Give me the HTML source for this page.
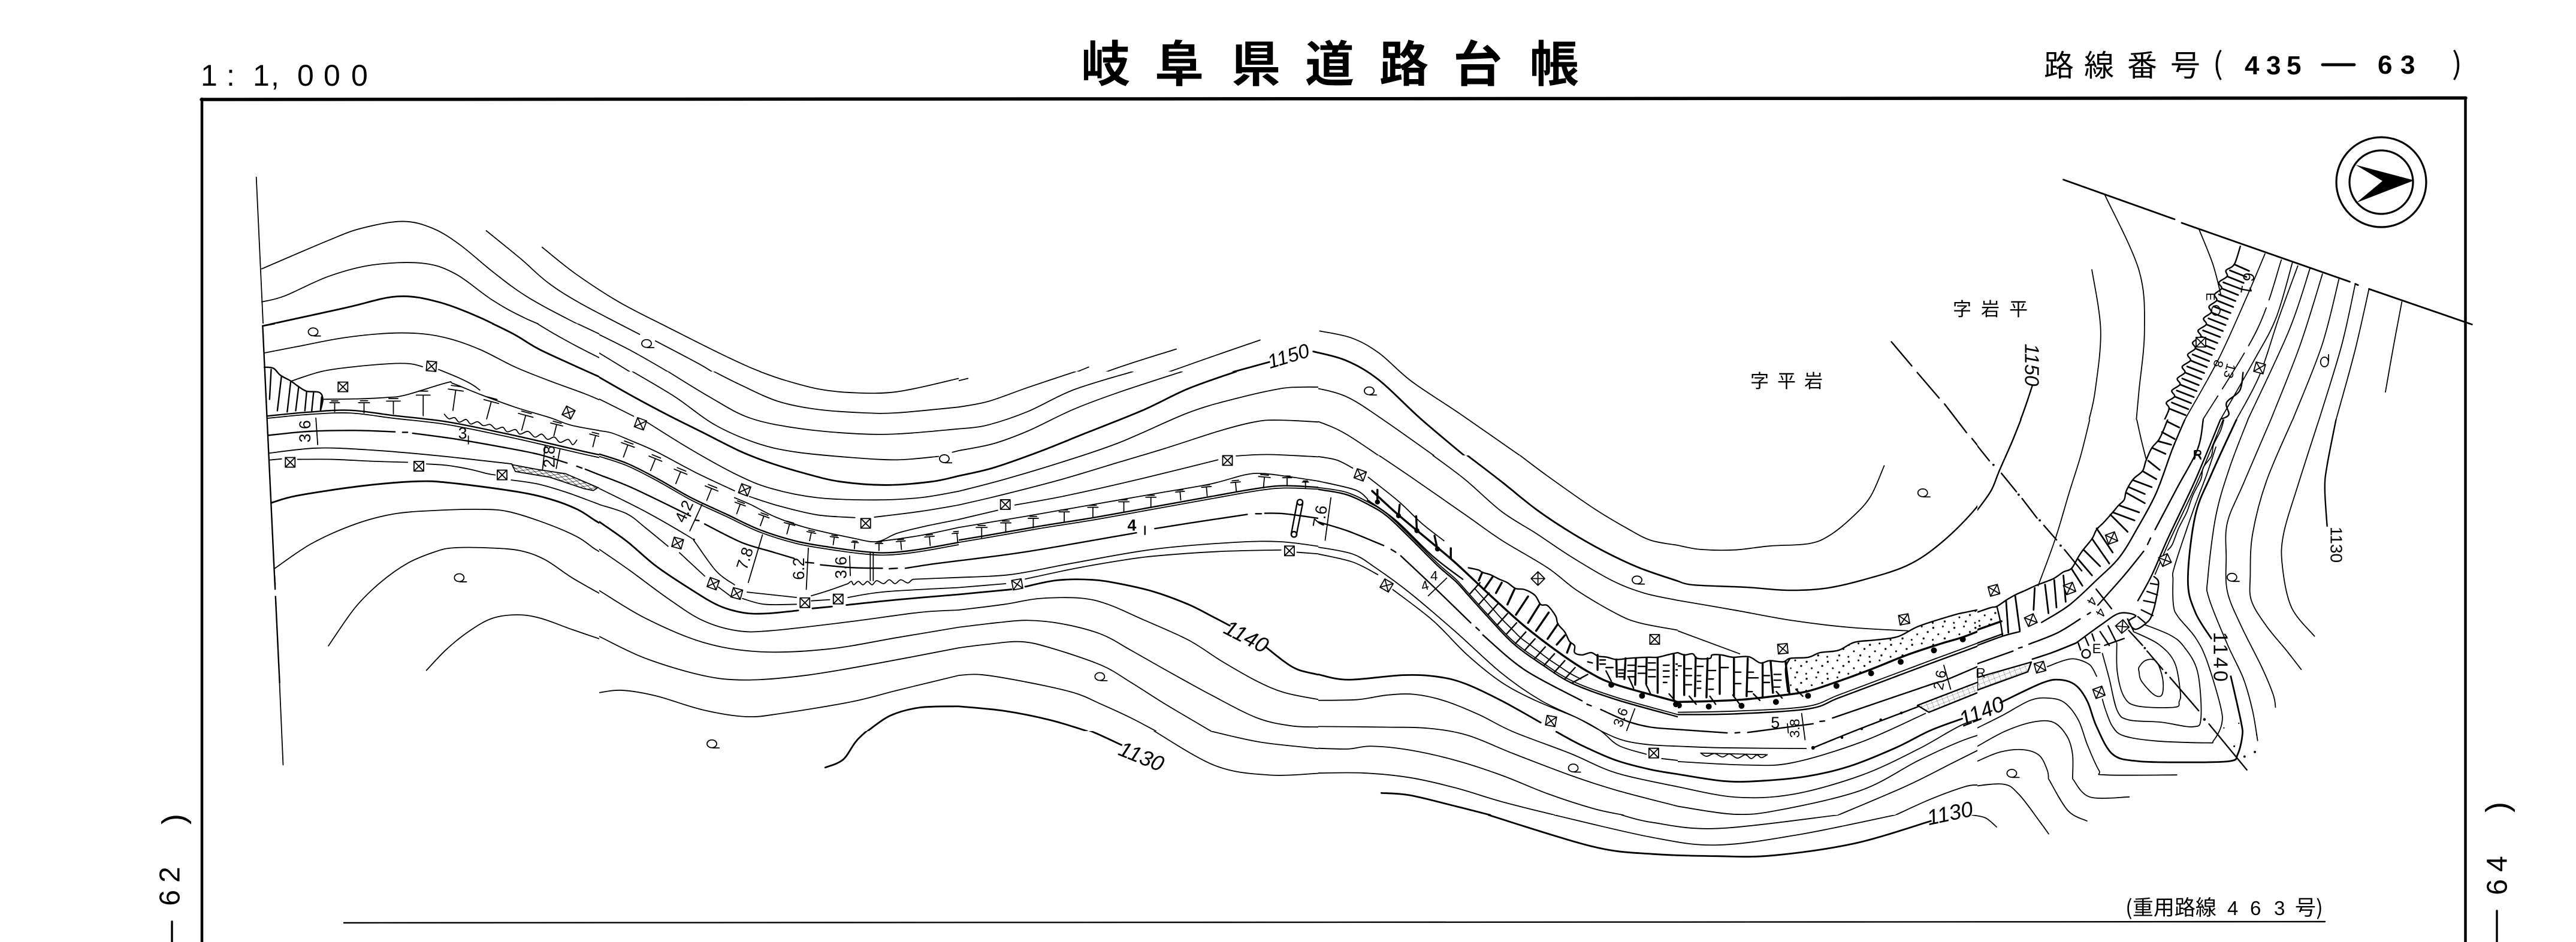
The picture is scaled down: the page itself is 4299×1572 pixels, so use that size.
<!DOCTYPE html>
<html lang="ja"><head><meta charset="utf-8"><title>岐阜県道路台帳</title>
<style>
html,body{margin:0;padding:0;background:#fff;width:4299px;height:1572px;overflow:hidden}
svg{display:block}
path,line,rect,ellipse,circle,polygon{vector-effect:non-scaling-stroke;fill:none;stroke:#000;stroke-width:1.8;stroke-linejoin:round;stroke-linecap:round}
.k{stroke-width:2.8}
.m{stroke-width:2.4}
.h{stroke-width:3.4}
.d{stroke-dasharray:70 14}
.f{fill:#000;stroke:none}
.w{fill:#fff}
text{fill:#000;stroke:none;font-family:"Liberation Sans","Noto Sans CJK JP",sans-serif}
.j{font-family:"Noto Sans CJK JP","Liberation Sans",sans-serif}
.t{font-size:70px;text-anchor:middle;dominant-baseline:central}
.l{font-size:33px;text-anchor:middle;dominant-baseline:central;font-style:italic}
</style></head><body>
<svg xmlns="http://www.w3.org/2000/svg" width="4299" height="1572" viewBox="0 0 4299 1572">
<defs>
<clipPath id="o"><path clip-rule="evenodd" d="M0 0H4299V1572H0ZM420 540H1000V620H2200V760H3300V700H3900V1300H3300V1360H2200V1220H1000V1140H420Z"/></clipPath>
<clipPath id="cA"><rect x="420" y="540" width="580" height="600"/></clipPath>
<clipPath id="cB"><rect x="1000" y="620" width="600" height="600"/></clipPath>
<clipPath id="cC"><rect x="1600" y="620" width="600" height="600"/></clipPath>
<clipPath id="cD"><rect x="2200" y="760" width="600" height="600"/></clipPath>
<clipPath id="cE"><rect x="2800" y="760" width="500" height="600"/></clipPath>
<clipPath id="cF"><rect x="3300" y="700" width="600" height="600"/></clipPath>
<g id="b"><rect class="w" x="-21" y="-21" width="42" height="42" style="fill:#fff"/><path d="M-21 -21 21 21M21 -21 -21 21"/></g>
<g id="q"><ellipse cx="0" cy="-2" rx="21" ry="17"/><path d="M4 16H32"/></g>
<g id="T"><path d="M0 0V56M-30 0H30M-20 -11H20"/></g>
<pattern id="st" width="92" height="74" patternUnits="userSpaceOnUse"><circle class="f" cx="10" cy="12" r="4.5"/><circle class="f" cx="52" cy="6" r="4"/><circle class="f" cx="78" cy="30" r="4.5"/><circle class="f" cx="32" cy="40" r="4"/><circle class="f" cx="60" cy="58" r="4.5"/><circle class="f" cx="8" cy="64" r="4"/></pattern>
<pattern id="gr" width="24" height="18" patternUnits="userSpaceOnUse" patternTransform="rotate(-21)"><path style="stroke-width:1.5" d="M0 0H24M0 0V18"/></pattern>
<pattern id="xh" width="34" height="16" patternUnits="userSpaceOnUse" patternTransform="rotate(15)"><path style="stroke-width:1.5" d="M0 0 34 16M34 0 0 16"/></pattern>
</defs>

<!-- frame and bottom line -->
<path style="stroke-width:5.5" d="M336 166 4115 163.5"/>
<path style="stroke-width:4.5" d="M337 165V1572M4114.5 163V1572"/>
<path style="stroke-width:2.4" d="M574 1540 3880 1538"/>

<!-- titles -->
<text x="1804 1927 2055 2178 2302 2425 2553" y="136" class="j" font-size="82" font-weight="700">岐阜県道路台帳</text>
<text x="335 378 422 452 496 540 586" y="143" font-size="50">1:1,000</text>
<text x="3411 3478 3550 3622" y="127" class="j" font-size="50">路線番号</text>
<text x="3693" y="124" class="j" font-size="50">(</text>
<text x="3746 3782 3816" y="124" font-size="44" font-weight="700" >435</text>
<path style="stroke-width:5" d="M3876 108H3929"/>
<text x="3968 4006" y="123" font-size="44" font-weight="700">63</text>
<text x="4092" y="124" class="j" font-size="50">)</text>
<text x="3259 3306 3353" y="527" class="j" font-size="31">字岩平</text>
<text x="2921 2966 3011" y="647" class="j" font-size="31">字平岩</text>
<text x="3547" y="1527" class="j" font-size="35">(重用路線</text>
<text x="3717 3755 3795" y="1527" font-size="33">463</text>
<text x="3830" y="1527" class="j" font-size="35">号)</text>
<text transform="translate(290 1367) rotate(-90)" text-anchor="middle" font-size="54" dominant-baseline="central">)</text>
<text transform="translate(284 1473) rotate(-90)" text-anchor="middle" font-size="48" letter-spacing="12" dominant-baseline="central">62</text>
<path style="stroke-width:3.4" d="M287 1538V1572M4167 1520V1572"/>
<text transform="translate(4168 1347) rotate(-90)" text-anchor="middle" font-size="54" dominant-baseline="central">)</text>
<text transform="translate(4168 1455) rotate(-90)" text-anchor="middle" font-size="48" letter-spacing="12" dominant-baseline="central">64</text>

<!-- compass -->
<ellipse cx="3974" cy="304" rx="75" ry="75" style="stroke-width:3.2"/>
<ellipse cx="3974" cy="304" rx="53" ry="53" style="stroke-width:3.2"/>
<polygon class="f" points="4029,301 3931,275 3976,302 3933,338"/>

<!-- contour labels -->
<text class="l" transform="translate(2150 594) rotate(-17)">1150</text>
<text class="l" transform="translate(3391 609) rotate(90)">1150</text>
<text class="l" transform="translate(2080 1062) rotate(27)" style="font-size:36px">1140</text>
<text class="l" transform="translate(1905 1262) rotate(22)" style="font-size:36px">1130</text>
<text class="l" transform="translate(3307 1187) rotate(-22)" style="font-size:36px">1140</text>
<text class="l" transform="translate(3254 1357) rotate(-12)" style="font-size:36px">1130</text>
<text class="l" transform="translate(3706 1098) rotate(90)" style="font-style:normal;letter-spacing:4px">1140</text>
<text class="l" transform="translate(3899 909) rotate(90)" style="font-style:normal;font-size:28px">1130</text>
<text class="l" transform="translate(2203 862) rotate(-80)" style="font-style:normal;font-size:27px">7.6</text>
<text class="l" transform="translate(3751 473) rotate(100)" style="font-style:normal;font-size:26px">6.1</text>
<text class="l" transform="translate(3688 495) rotate(90)" style="font-style:normal;font-size:20px">E</text>
<ellipse cx="3698" cy="518" rx="7" ry="8"/>
<text class="l" transform="translate(3702 607) rotate(105)" style="font-style:normal;font-size:22px">8</text>
<text class="l" transform="translate(3721 619) rotate(105)" style="font-style:normal;font-size:22px">13</text>
<text class="l" transform="translate(3668 759)" style="font-style:normal;font-size:20px">R</text>

<!-- upper/outer contours traced in stretched space -->
<g clip-path="url(#o)"><g transform="scale(.9139 .5013)">
<path d="M468 590 481 1100M510 2255 517 2546"/>
<path d="M990 823 1050 910 1130 1005 1220 1090 1330 1190 1400 1245 1480 1290 1568 1307 1628 1302 1698 1285 1766 1260"/>
<path d="M888 768 950 860 1000 940 1060 1010 1168 1113M1197 1135 1280 1215 1350 1290 1450 1350 1568 1375 1648 1380 1780 1350 1900 1285 1988 1222"/>
<path d="M478 895 600 800 660 760 735 737 790 760 840 815 900 905 960 985 1040 1065 1150 1165 1260 1280 1340 1360 1420 1410 1568 1445 1680 1442 1800 1410 1900 1345 2010 1245 2148 1162"/>
<path d="M478 1005 520 985 600 920 680 882 770 876 830 910 900 1000 960 1060 1060 1140 1180 1270 1290 1380 1400 1470 1480 1510 1568 1520 1640 1528 1720 1505 1850 1440 1980 1340 2170 1215 2301 1132"/>
<path class="k" d="M480 1085 630 1025 725 987 800 1005 880 1060 960 1135 1070 1235 1170 1330 1290 1450M2188 1270 2318 1205M2398 1170 2458 1200 2518 1265 2598 1400 2708 1568"/>
<path d="M2398 1290 2458 1320 2528 1400 2658 1568M2398 1397 2458 1445 2558 1568M2410 1102 2468 1125 2518 1175 2578 1270 2668 1380 2816 1568"/>
<path class="k" d="M1507 2555 1540 2528 1568 2458 1618 2388 1668 2363 1728 2348 1858 2373 1968 2418 2048 2480"/>
<path d="M2100 2425 2218 2548 2318 2580 2410 2574M2211 2434 2300 2470 2407 2492"/>
<path d="M2961 2713 3018 2738 3136 2758 3357 2713M2838 2713 3018 2788 3136 2813 3286 2778 3461 2713"/>
<path class="k" d="M2718 2713 2908 2818 3018 2843 3136 2850 3236 2848 3386 2808 3526 2733"/>
<path d="M3601 2713 3626 2723 3646 2753"/>
<path d="M3587 2622 3656 2610 3686 2643 3726 2738 3741 2776M3741 2593 3776 2698 3811 2733M3785 2593 3816 2653 3888 2653"/>
<path class="m" d="M3711 1285 3690 1396 3651 1568"/>
<path class="m" d="M3454 1138 3491 1218M3501 1240 3541 1325M3551 1345 3591 1440M3601 1460 3646 1560"/>
<path d="M3844 650 3906 900 3916 1100 3906 1300 3901 1400M3820 898 3836 1100 3826 1300 3815 1396M4016 765 4041 880 4056 985"/>
<path class="h" d="M3768 598 3971 730M3984 742 4291 938M4301 945 4306 949M4326 962 4514 1080" style="stroke-width:2.8"/>
<path d="M4136 845 4100 1000 4050 1200 3990 1396"/>
<path class="d" d="M4166 865 4121 1100 4023 1396"/>
<path d="M4186 875 4156 1060 4116 1200 4055 1396M4196 885 4161 1060 4126 1250 4084 1396"/>
<path class="m" d="M4096 1240 4090 1300 4066 1340 4070 1380 4055 1396"/>
<path d="M4218 895 4180 1100 4105 1396M4241 912 4200 1150 4147 1396M4271 930 4240 1150 4187 1396M4301 945 4276 1150 4235 1396M4326 962 4300 1170 4266 1396M4386 1005 4371 1150 4356 1305"/>
<path class="m" d="M4091 820 4080 880 4065 900 4067 920 4052 940 4057 960 4044 980 4048 1000 4034 1020 4038 1040 4024 1060 4029 1080 4014 1100 4019 1120 4004 1140 4009 1160 3995 1180 4000 1200 3985 1220 3990 1240 3976 1260 3981 1280 3966 1300 3971 1320 3956 1340 3961 1360 3953 1396"/>
<path class="k" d="M4080 880 4107 902M4072 900 4102 922M4067 920 4097 942M4060 940 4092 962M4057 960 4087 982M4052 980 4082 1002M4048 1000 4078 1022M4042 1020 4073 1042M4038 1040 4068 1062M4033 1060 4064 1082M4029 1080 4059 1102M4023 1100 4054 1122M4019 1120 4049 1142M4013 1140 4044 1162M4009 1160 4039 1182M4004 1180 4034 1202M4000 1200 4030 1222M3994 1220 4025 1242M3990 1240 4020 1262M3985 1260 4015 1282M3981 1280 4011 1302M3975 1300 4006 1322M3971 1320 4001 1342M3966 1340 3996 1362M3961 1360 3991 1382"/>
</g></g>
<use href="#b" transform="translate(3673 571) scale(.3827)"/>
<use href="#b" transform="translate(3771 614) rotate(15) scale(.3827)"/>
<use href="#q" transform="translate(1079 574) scale(.3827)"/>
<use href="#q" transform="translate(2285 653) scale(.3827)"/>
<use href="#q" transform="translate(1188 1242) scale(.3827)"/>
<use href="#q" transform="translate(3880 604) rotate(-90) scale(.3827)"/>

<!-- A -->
<g clip-path="url(#cA)"><g transform="translate(420 540) scale(.3827)">
<path class="m" d="M48 10 98 1070 100 1100M102 1130 102 1148M104 1190 122 1568"/>
<path class="k" d="M48 10 100 0"/>
<path d="M55 128 200 100 400 62 600 42 750 45 870 68 1000 115 1150 190 1300 250 1450 305 1568 355"/>
<path class="k" d="M1050 0 1150 50 1250 110 1400 180 1500 225 1568 255"/>
<path d="M1245 0 1320 45 1420 100 1568 175M1420 0 1568 70"/>
<path d="M175 250 300 210 430 190 600 175 690 175 745 188M815 200 900 235 960 265 995 290"/>
<path class="m" d="M55 190 95 195 125 225 170 250 205 275 240 295 295 300 310 330 300 380"/>
<path class="m" d="M85 200 78 330M130 230 112 380M170 255 155 385M205 275 192 380M240 295 232 380M270 300 262 380M305 320 300 375"/>
<path d="M315 330 470 328 590 322 670 312 850 258 880 262 1000 310 1150 365 1300 410 1400 445 1568 475"/>
<use href="#T" transform="translate(362 345) scale(.7)"/><use href="#T" transform="translate(490 345) scale(.8)"/><use href="#T" transform="translate(618 338) scale(1 1)"/><use href="#T" transform="translate(748 312) scale(1 1.6)"/><use href="#T" transform="translate(890 290) rotate(8) scale(1.1 1.6)"/><use href="#T" transform="translate(1045 340) rotate(15) scale(1.1 1.4)"/><use href="#T" transform="translate(1195 400) rotate(15) scale(1.1 1.2)"/><use href="#T" transform="translate(1330 440) rotate(14) scale(.9)"/><use href="#T" transform="translate(1500 488) rotate(14) scale(.9)"/>
<path class="m" d="M68 403 250 386 430 378 620 401 850 428 1100 478 1300 523 1450 558 1568 583"/>
<path d="M68 413 250 396 430 390 620 413 850 440 1100 490 1300 535 1450 570 1568 595"/>
<path class="m" d="M75 487 250 470 450 466 625 472M658 474 680 474M702 478 900 505 1100 540 1250 570 1375 608M1418 622 1440 630M1455 635 1568 680"/>
<path d="M75 565 280 543 500 550 800 575 1135 612M1510 715 1568 742"/>
<path d="M78 595 130 590M200 592 350 592 520 600 680 605M762 612 850 618 950 635 1030 655 1062 660M1132 682 1250 700 1370 735 1480 775 1568 808"/>
<path class="k" d="M85 782 200 750 480 708 720 688 870 695 1150 732 1300 765 1420 810 1500 860 1568 900"/>
<path d="M100 1068 260 960 450 875 620 830 800 815 1000 810 1120 820 1280 870 1420 930 1500 985 1568 1020"/>
<path d="M335 1405 450 1240 560 1130 680 1045 800 995 880 978 1030 978 1170 990 1280 1030 1400 1110 1568 1205"/>
<path d="M762 1512 850 1420 950 1340 1050 1285 1160 1270 1260 1285 1400 1335 1568 1392"/>
<path d="M840 395 860 415 885 410 905 430 935 418 955 438 985 428 1010 445 1040 440 1065 460 1095 452 1115 472 1150 462 1170 482 1205 470 1235 495 1265 482 1290 505 1320 495 1345 518 1380 505 1400 528 1418 508"/>
<polygon style="fill:url(#xh)" points="1135,615 1240,635 1370,655 1510,715 1490,728 1450,720 1300,670 1150,645"/>
<use href="#b" transform="translate(784 186) rotate(5)"/><use href="#b" transform="translate(398 276)"/><use href="#b" transform="translate(1382 388) rotate(28)"/><use href="#b" transform="translate(168 605)"/><use href="#b" transform="translate(729 622)"/><use href="#b" transform="translate(1092 660)"/>
<use href="#q" transform="translate(268 38)"/><use href="#q" transform="translate(905 1110)"/>
<path d="M280 412 288 528M1345 545 1328 632M1280 530 1268 640M945 490 945 525"/>
<text class="t" transform="translate(232 470) rotate(-90)">3.6</text>
<text class="t" transform="translate(1297 580) rotate(-90)">2.8</text>
<text class="t" transform="translate(920 478)">3</text>
</g></g>

<!-- B -->
<g clip-path="url(#cB)"><g transform="translate(1000 620) scale(.3827)">
<path d="M700 0 800 35 950 75 1100 92 1300 88 1568 30M500 0 620 60 780 130 950 165 1150 180 1300 180 1568 155M300 0 480 110 650 200 850 245 1100 270 1300 272 1568 250"/>
<path d="M145 0 330 110 500 230 680 310 850 350 1100 375 1300 385 1480 370M1540 352 1568 345"/>
<path class="k" d="M0 25 150 110 300 190 450 265 620 350 750 400 900 445 1050 480 1250 495 1450 480 1568 455"/>
<path d="M0 120 150 195M210 222 400 340 600 450 750 510 950 550 1200 560 1400 550 1568 522"/>
<path d="M0 258 55 268 135 300 250 350 420 440 590 520M655 545 780 585 950 625 1115 637M1200 635 1400 610 1568 582"/>
<path d="M590 550 660 580 770 635 900 680 1100 725 1210 742 1300 705 1420 675 1568 645M1215 742 1400 715 1568 680"/>
<use href="#T" transform="translate(125 320) rotate(20)"/><use href="#T" transform="translate(245 380) rotate(22)"/><use href="#T" transform="translate(355 437) rotate(22)"/><use href="#T" transform="translate(490 510) rotate(22)"/><use href="#T" transform="translate(615 578) rotate(20) scale(.8)"/><use href="#T" transform="translate(718 630) rotate(20) scale(.8)"/><use href="#T" transform="translate(830 665) rotate(15) scale(.8)"/><use href="#T" transform="translate(925 702) rotate(12) scale(.65)"/><use href="#T" transform="translate(1025 722) rotate(8) scale(.6)"/><use href="#T" transform="translate(1115 745) rotate(5) scale(.5)"/><use href="#T" transform="translate(1220 750) scale(.55)"/><use href="#T" transform="translate(1315 740) rotate(-5) scale(.65)"/><use href="#T" transform="translate(1440 720) rotate(-5) scale(.7)"/><use href="#T" transform="translate(1560 705) rotate(-5) scale(.7)"/>
<path class="m" d="M0 360 120 400 250 465 400 550 550 620 700 690 860 740 1000 765 1150 785 1260 790 1400 775 1568 745"/>
<path d="M0 370 120 410 250 475 400 560 550 630 700 700 860 750 1000 775 1150 795 1260 800 1400 785 1568 755"/>
<path class="m" d="M0 450 150 510 398 630M420 648 435 650M460 665 620 745 750 785 850 815M900 832 935 835M965 843 1100 855 1235 858M1265 860 1300 858M1335 858 1450 840 1568 825"/>
<path d="M0 510 200 610 400 725 415 740 510 870 590 930M645 962 860 985M925 978 1000 955 1085 925"/>
<path d="M1085 925 1100 915 1110 930 1130 915 1150 930 1170 915 1190 930 1210 912 1240 925 1265 908 1290 925 1315 908 1345 922 1365 908 1390 905 1568 898"/>
<path d="M0 580 120 620 200 680 300 762M350 790 460 892M520 940 580 985M625 990 720 1015 860 1015M925 1000 1005 995M1085 985 1250 960 1568 942"/>
<path class="k" d="M0 655 120 740 250 850 400 950 520 1020 630 1052 730 1055 868 1042M930 1033 1015 1025M1078 1018 1300 995 1568 972"/>
<path d="M0 775 130 865 300 990 450 1085 600 1130 750 1130 1100 1090 1400 1050 1568 1040"/>
<path d="M0 955 200 1075 450 1180 700 1222 1000 1210 1300 1160 1568 1115"/>
<path d="M0 1155 200 1250 450 1325 640 1345 900 1325 1200 1275 1568 1205"/>
<path d="M0 1400 100 1390 250 1415 450 1475 640 1505 800 1490 1100 1440 1300 1390 1568 1325"/>
<path class="k" d="M1170 1568 1270 1500 1400 1465 1568 1460"/>
<path d="M1182 790V912M1195 790V912M448 580 395 695M712 712 650 920M912 770 903 950M1092 805 1095 890"/>
<use href="#b" transform="translate(180 228) rotate(20)"/><use href="#b" transform="translate(634 516) rotate(20)"/><use href="#b" transform="translate(1162 662)"/><use href="#b" transform="translate(342 748) rotate(15)"/><use href="#b" transform="translate(497 925) rotate(20)"/><use href="#b" transform="translate(600 968) rotate(15)"/><use href="#b" transform="translate(897 1008)"/><use href="#b" transform="translate(1042 992)"/>
<use href="#q" transform="translate(1505 382)"/>
<text class="t" transform="translate(370 610) rotate(-65)">4.2</text>
<text class="t" transform="translate(635 815) rotate(-72)">7.8</text>
<text class="t" transform="translate(870 860) rotate(-90)">6.2</text>
<text class="t" transform="translate(1055 855) rotate(-90)">3.6</text>
</g></g>

<!-- C -->
<g clip-path="url(#cC)"><g transform="translate(1600 620) scale(.3827)">
<path d="M0 40 40 30M0 155 130 130 300 70 510 0M0 250 120 235 300 175 500 80 760 0M0 345 150 315 300 260 500 165 700 90 975 0"/>
<path class="k" d="M0 455 150 420 350 350 550 270 800 170 1000 75 1210 0"/>
<path d="M0 522 200 470 450 395 700 310 1000 180 1200 120 1400 75 1500 68 1568 68M0 582 180 540 450 470 700 395 900 335 1150 255 1300 218 1400 212 1568 220"/>
<path d="M0 645 170 605M245 582 450 545 700 490 950 430 1130 385M1210 368 1350 362 1568 372"/>
<path d="M0 680 150 655 300 630 500 595 700 560 900 525 1100 490 1250 450 1330 445 1450 460 1568 478"/>
<path class="m" d="M0 735 150 710 350 675 600 635 850 590 1100 545 1300 510 1420 498 1568 505"/>
<path d="M0 745 150 720 350 685 600 645 850 600 1100 555 1300 520 1420 508 1568 513"/>
<use href="#T" transform="translate(100 680) scale(.8)"/><use href="#T" transform="translate(205 660) scale(.75)"/><use href="#T" transform="translate(325 640) scale(.75)"/><use href="#T" transform="translate(460 612) scale(.75)"/><use href="#T" transform="translate(585 592) scale(.75)"/><use href="#T" transform="translate(720 568) scale(.75)"/><use href="#T" transform="translate(838 548) scale(.75)"/><use href="#T" transform="translate(965 524) rotate(-5) scale(.65)"/><use href="#T" transform="translate(1080 503) rotate(-5) scale(.7)"/><use href="#T" transform="translate(1207 483) rotate(-5) scale(.7)"/><use href="#T" transform="translate(1333 460) rotate(5) scale(.85)"/><use href="#T" transform="translate(1432 463) scale(.65)"/><use href="#T" transform="translate(1512 482) scale(.45)"/>
<path class="m" d="M0 825 300 785 775 703M812 675 812 710M855 685 1000 662 1258 623M1295 620 1320 620M1335 618 1420 620 1568 640"/>
<path d="M0 898 230 885 500 835 850 775 1200 745 1400 742 1568 762"/>
<path d="M0 942 205 925M290 905 500 860 700 825 850 805 1130 785 1405 778M1475 788 1568 795"/>
<path class="k" d="M0 972 230 950M290 938 430 910 580 908 700 925 850 960 1000 1015 1100 1065 1182 1108M1340 1202 1420 1265 1480 1300 1568 1322"/>
<path d="M0 1040 200 1015 350 990 530 988 650 1015 800 1080 1000 1170 1150 1265 1300 1350 1420 1400 1568 1430"/>
<path d="M0 1115 170 1095 300 1085 450 1100 620 1145 750 1215 900 1300 1100 1410 1300 1510 1450 1545 1568 1550"/>
<path d="M0 1205 120 1190 270 1178 400 1205 620 1280 750 1355 900 1450 1100 1568"/>
<path d="M0 1325 100 1322 300 1355 500 1400 620 1450 750 1510 860 1568"/>
<path class="k" d="M0 1460 200 1480 400 1520 560 1568"/>
<circle cx="1488" cy="570" r="12" class="m"/><circle cx="1462" cy="710" r="12" class="m"/>
<path class="m" d="M1476 570 1450 708M1500 575 1473 710"/>
<use href="#b" transform="translate(203 580)"/><use href="#b" transform="translate(1172 388)"/><use href="#b" transform="translate(255 928) rotate(-10)"/><use href="#b" transform="translate(1442 782)"/>
<use href="#q" transform="translate(615 1332)"/>
<text class="t" transform="translate(755 670)" style="font-weight:700">4</text>
</g></g>

<!-- D -->
<g clip-path="url(#cD)"><g transform="translate(2200 760) scale(.3827)">
<path d="M0 5 80 20 150 55M218 95 350 200 450 295 548 372"/>
<path d="M265 0 420 105 650 265 800 370 1000 490 1130 590 1300 690 1400 730 1568 762"/>
<path d="M500 0 640 105 800 245 950 340 1100 440 1280 545 1420 600 1568 632"/>
<path class="k" d="M650 0 800 115 950 235 1100 335 1250 420 1400 490 1568 548"/>
<path d="M880 0 1000 90 1200 230 1350 320 1450 370 1568 392"/>
<path d="M0 112 160 150 215 190"/>
<path d="M0 140 120 160 220 205 300 255 400 350 520 470 600 540 650 595 740 695 850 810 980 905 1110 985 1300 1055 1568 1130"/>
<path class="m" d="M0 148 120 170 220 215 300 265 400 360 520 480 600 550 650 605 740 705 850 820 980 915 1110 995 1300 1065 1568 1140"/>
<path class="h" d="M235 155 350 260 500 385 600 470 750 610 900 745 1050 860 1180 945 1300 1000 1568 1075"/>
<path class="m" d="M215 195 340 285 500 440 630 540"/>
<path class="m" d="M660 605 705 555M700 650 745 600M740 695 785 645M780 740 825 690M820 780 865 730M860 820 905 770M900 850 945 800M945 885 990 835M985 915 1030 865M1030 945 1075 895M1075 975 1120 925M1110 990 1175 955"/>
<path d="M682 580 722 625 762 670 802 715 842 755 882 795 922 825 967 860 1007 890 1052 920 1097 950 1145 975"/>
<path class="h" d="M258 150 258 205M355 215 350 265M427 265 430 330M507 350 520 410M578 405 578 450"/>
<circle class="f" cx="258" cy="203" r="11"/><circle class="f" cx="350" cy="263" r="11"/><circle class="f" cx="430" cy="328" r="11"/><circle class="f" cx="520" cy="408" r="11"/>
<path class="m" d="M655 490 700 500 715 510 750 520 790 540 825 555 860 580 900 585 945 610 970 650 1000 655 1035 700 1045 735 1075 770 1095 810 1118 830 1118 860 1150 870 1190 860 1220 875 1260 880 1300 890 1350 885 1395 882 1440 880 1480 880 1530 868 1568 860"/>
<path class="h" d="M715 510 700 545M760 530 722 585M800 555 775 600M855 585 825 650M915 615 862 695M965 650 915 730M1005 685 950 765M1045 735 1000 800M1075 785 1040 825M1100 820 1085 860"/>
<path class="h" d="M1218 870 1218 935M1300 890 1302 965M1340 885 1335 975M1385 885 1382 1000M1432 885 1430 995M1480 885 1480 1035M1550 870 1550 1060"/>
<path class="m" d="M1175 900 1195 905M1228 892 1252 892M1228 910 1252 910M1255 925 1285 925M1310 935 1330 935M1310 950 1330 950M1310 965 1330 965M1350 915 1378 915M1350 940 1378 940M1350 965 1378 965M1395 920 1425 920M1395 950 1425 950M1440 905 1470 905M1440 935 1470 935M1440 965 1470 965M1505 915 1530 915M1505 940 1530 940M1505 965 1530 965M1505 990 1520 990M1560 910 1568 910M1560 935 1568 935M1560 960 1568 960"/>
<circle class="f" cx="1278" cy="1000" r="13"/><circle class="f" cx="1412" cy="1048" r="13"/><circle class="f" cx="1560" cy="1085" r="13"/>
<path class="m" d="M1255 940 1278 985M1355 970 1375 1015M1430 1000 1452 1045M1530 1040 1560 1075"/>
<path class="m" d="M0 290 130 330 285 393M318 410 338 422M360 438 500 570 665 730M688 750 702 763M718 783 900 935 1150 1070M1172 1085 1190 1092M1232 1108 1350 1160 1450 1185 1568 1195"/>
<path d="M0 400 150 430 250 490 400 600 600 770 800 950 970 1068 1130 1145 1250 1210 1340 1245 1450 1262 1568 1268"/>
<path d="M0 430 150 465 260 520M325 585 500 720 650 870 800 990 950 1070 1130 1145 1230 1200 1310 1265 1430 1303M1498 1322 1568 1330"/>
<path class="k" d="M0 955 130 978 370 958 520 965 640 995 800 1070 970 1165M1038 1205 1150 1265 1300 1330 1450 1370 1568 1390"/>
<path d="M0 1068 170 1065 300 1045 420 1042 550 1070 700 1130 850 1205 1100 1300 1300 1385 1568 1445"/>
<path d="M0 1182 300 1185 480 1190 650 1220 850 1300 1100 1395 1300 1460 1568 1530"/>
<path d="M0 1277 130 1280 230 1268 400 1285 600 1330 800 1395 1000 1475 1200 1540 1330 1568"/>
<path d="M0 1385 200 1385 400 1405 600 1450 800 1510 1030 1568"/>
<path class="k" d="M275 1472 400 1482 600 1530 750 1568"/>
<path d="M55 185 30 370M560 535 480 612M1380 1105 1345 1200"/>
<use href="#b" transform="translate(183 85) rotate(20)"/><use href="#b" transform="translate(958 537) rotate(45)"/><use href="#b" transform="translate(298 567) rotate(30)"/><use href="#b" transform="translate(1467 802)"/><use href="#b" transform="translate(1015 1158) rotate(10)"/><use href="#b" transform="translate(1463 1298)"/>
<use href="#q" transform="translate(1390 545)"/><use href="#q" transform="translate(1112 1365)"/>
<text class="t" transform="translate(505 525)" style="font-size:58px">4</text>
<text class="t" transform="translate(465 568) rotate(-15)" style="font-size:58px">4</text>
<text class="t" transform="translate(1318 1142) rotate(-70)" style="font-size:60px">3.6</text>
</g></g>

<!-- E -->
<g clip-path="url(#cE)"><g transform="translate(2800 760) scale(.3827)">
<path d="M0 392 100 410 250 412 400 395 570 385 660 350 760 270 840 180 900 45"/>
<path class="m" d="M0 548 70 565 300 575 480 588 640 580 800 545 1000 480 1150 380 1300 230 1390 90 1435 0"/>
<path d="M0 632 250 675 500 720 750 750 1005 765M0 765 270 865"/>
<polygon style="fill:url(#st);stroke:none" points="490,885 570,880 620,860 700,850 770,815 860,805 960,790 1050,745 1190,700 1250,685 1360,668 1400,700 1400,725 1250,785 1000,870 850,930 700,985 560,1030 490,1040"/>
<path class="m" d="M0 860 30 870 65 865 85 885 140 885 150 870 190 870 240 880 310 878 360 905 400 895 460 900 490 885 570 880 620 860 700 850 770 815 860 805 960 790 1050 745 1190 700 1250 685 1360 668 1400 700"/>
<path class="h" d="M28 870 28 1045M78 880 75 1050M130 885 125 1055M183 875 183 1040M245 885 245 1050M305 885 300 1050M370 905 370 1050M405 900 415 1035M470 900 487 1040"/>
<path class="m" d="M490 885 470 930 480 1030"/>
<path class="m" d="M0 918 15 918M35 930 60 930M35 960 60 960M35 1000 60 1000M85 920 110 920M85 960 100 960M85 985 100 985M85 1015 100 1015M135 938 165 938M135 975 155 975M135 1020 155 1020M185 925 220 925M250 945 275 945M250 995 275 995M305 945 330 945M305 970 350 970M305 1030 325 1030M375 960 400 960M375 990 400 990M420 955 450 955M420 980 450 980M420 1010 445 1010"/>
<path class="h" d="M0 1075 130 1072 280 1065 420 1050 560 1030 700 985 850 930 1000 870 1150 820 1250 790 1400 730"/>
<path d="M0 1120 250 1115 560 1095 700 1045 900 970 1100 895 1250 840 1420 775"/>
<path class="m" d="M0 1130 250 1127 570 1105 700 1058 900 983 1100 908 1250 853 1420 790"/>
<circle class="f" cx="5" cy="1090" r="13"/><circle class="f" cx="135" cy="1095" r="13"/><circle class="f" cx="278" cy="1092" r="13"/><circle class="f" cx="428" cy="1075" r="13"/><circle class="f" cx="568" cy="1048" r="13"/><circle class="f" cx="692" cy="1005" r="13"/><circle class="f" cx="843" cy="950" r="13"/><circle class="f" cx="972" cy="900" r="13"/><circle class="f" cx="1117" cy="850" r="13"/><circle class="f" cx="1243" cy="802" r="13"/>
<path class="m" d="M50 1050 80 1085M140 1050 165 1085M240 1045 270 1085M330 1040 358 1068M430 1030 455 1058M515 1020 545 1050"/>
<path class="m" d="M0 1195 215 1210M250 1210 270 1208M305 1208 590 1170M620 1160 640 1158M675 1145 1100 1000 1180 975 1460 855"/>
<path d="M0 1268 200 1275 560 1278"/>
<path class="m" d="M590 1275 800 1190 1050 1095"/>
<circle class="f" cx="590" cy="1275" r="8"/><circle class="f" cx="716" cy="1230" r="6"/><circle class="f" cx="802" cy="1192" r="6"/><circle class="f" cx="885" cy="1153" r="6"/><circle class="f" cx="975" cy="1123" r="6"/>
<path d="M0 1335 300 1350 500 1340 800 1250 1080 1125M100 1298 390 1305"/>
<path d="M100 1298 125 1312 160 1300 195 1315 225 1302 260 1320 295 1305 320 1322 345 1306 365 1318 390 1305"/>
<polygon class="m" style="fill:url(#gr)" points="1045,1090 1540,900 1530,945 1095,1120"/>
<path class="k" d="M0 1390 200 1420 350 1420 560 1400 750 1355 950 1275 1100 1200 1240 1148"/>
<path d="M0 1445 250 1490 500 1478 800 1395 1050 1280 1250 1170 1400 1130 1568 1085"/>
<path d="M0 1530 250 1565 450 1545 800 1460 1050 1330 1250 1240 1420 1190 1568 1165"/>
<path d="M700 1568 1000 1440 1200 1340 1310 1285"/>
<path d="M950 1568 1100 1500 1250 1445 1306 1437"/>
<path d="M1160 915 1190 1020M540 1125 555 1240M478 1170 482 1210"/>
<use href="#b" transform="translate(458 843) rotate(-5)"/><use href="#b" transform="translate(987 715) rotate(-10)"/>
<use href="#q" transform="translate(1068 165)"/>
<text class="t" transform="translate(1320 950)" style="font-size:58px">R</text>
<text class="t" transform="translate(1145 980) rotate(-80)" style="font-size:62px">2.6</text>
<text class="t" transform="translate(425 1165)">5</text>
<text class="t" transform="translate(510 1190) rotate(-90)" style="font-size:60px">3.8</text>
</g></g>

<!-- F -->
<g clip-path="url(#cF)"><g transform="translate(3300 700) scale(.3827)">
<path class="m" d="M190 0 150 100 95 225 60 310 0 395"/>
<path class="m" d="M0 115 52 180M105 235 170 315M195 345 260 430M290 462 345 525M380 568 455 660"/>
<path class="m" d="M660 920 720 985M740 1010 808 1090M840 1125 965 1270M1010 1328 1175 1528"/>
<circle class="f" cx="70" cy="198" r="5"/><circle class="f" cx="180" cy="328" r="5"/><circle class="f" cx="272" cy="440" r="5"/><circle class="f" cx="363" cy="550" r="5"/><circle class="f" cx="730" cy="997" r="5"/><circle class="f" cx="822" cy="1105" r="5"/><circle class="f" cx="990" cy="1308" r="6"/>
<path d="M490 0 450 160 400 320 340 520 265 725M695 0 715 90 735 170"/>
<polygon style="fill:url(#st);stroke:none" points="0,840 60,820 95,850 100,885 0,925"/>
<path class="m" d="M0 840 60 820 85 815 130 785 165 765 210 745 260 722 330 695 375 665 410 650 440 600 460 570 500 520 520 480 550 450 590 405 615 375 640 350 650 310 680 260 720 225 735 180 760 125 790 90 810 50 830 0"/>
<path class="m" d="M280 885 400 810 520 700 620 600 700 470 780 320 850 130 905 0"/>
<path class="h" d="M0 917 105 880"/>
<path class="m" d="M85 815 100 880 110 945M0 975 110 935M0 985 110 945 185 925"/>
<path class="h" d="M830 10 880 35M805 55 860 85M790 95 845 110M765 125 820 150M745 180 795 220M720 225 780 260M680 265 760 295M660 295 730 325M650 320 730 365M620 375 705 405M590 405 685 440M580 415 655 490M520 475 590 580M500 520 575 628M465 570 535 640M440 610 500 680M410 650 458 725M375 680 385 795M335 700 345 820M295 720 310 845M250 735 245 830M165 770 185 920M125 790 135 930" style="stroke-width:2.8"/>
<path class="m" d="M0 1065 155 1010M180 997 195 993M225 980 350 930 448 870M480 850 493 842M525 810 640 680 725 575M742 545 755 517M775 480 870 300 960 130 985 0"/>
<path class="m" d="M1060 0 950 265 830 520 760 680 700 790"/>
<path d="M1072 0 960 270 840 525 775 675"/>
<path d="M1075 0 1060 50 1030 110 1020 160 985 210 975 260 940 330 915 400 895 440 875 480 850 545 830 570"/>
<path class="m" d="M770 685 790 710 780 780 765 840 745 880 690 915 660 880 690 855 620 845 540 895 430 975"/>
<path class="h" d="M430 975 330 1015 240 1045" style="stroke-width:2.6"/>
<path class="m" d="M655 870 680 920M700 860 730 885M715 830 765 855M725 790 775 800M740 750 785 765M755 715 785 720M500 935 510 965M470 950 485 985M440 975 450 1005M535 925 575 985M570 900 605 970M555 985 640 955M518 740 585 825"/>
<polygon class="m" style="fill:url(#gr)" points="0,1125 235,1058 220,1100 0,1180"/>
<path d="M1040 120 1000 240 940 400 860 640 853 700 855 810 875 860 950 950 1000 1050 1060 1250 1065 1330 1030 1400 1000 1410 780 1402 640 1380 590 1340 560 1270 545 1220M520 1120 490 1070 430 1045 380 1050 305 1078"/>
<path class="k" d="M1130 0 1020 240 950 420 918 700 950 840 1020 955M1105 1120 1150 1320 1155 1380 1135 1460 1100 1490 900 1495 700 1490 590 1460 520 1340 480 1230 430 1160 360 1135 280 1150 100 1235"/>
<path d="M1180 0 1100 210 1040 420 1005 690 1010 780 1090 980 1160 1130 1200 1270 1222 1400"/>
<path d="M1280 0 1160 280 1090 450 1085 600 1090 750 1150 900 1240 1080 1290 1200 1300 1255"/>
<path d="M1375 0 1260 270 1200 500 1190 680 1195 790 1260 900 1350 1010 1412 1090"/>
<path d="M1490 0 1400 280 1335 500 1330 640 1370 820 1470 945"/>
<path class="m" d="M1564 0 1525 200 1515 300 1525 465"/>
<path d="M0 1345 110 1290 230 1225 310 1215 380 1235 440 1310 480 1420 530 1530 560 1550 870 1550"/>
<path d="M0 1425 120 1360 240 1320 330 1320 390 1380 415 1460 415 1568"/>
<path d="M0 1490 100 1450 200 1440 270 1465 305 1530 310 1568"/>
<path d="M608 975 610 1100 640 1210 700 1250 860 1255 880 1230 885 1190 860 1060 790 980 680 925"/>
<path d="M545 1020 575 1130 610 1270 660 1310 800 1320 940 1340 975 1300 960 1100 900 990 840 940 730 895"/>
<path d="M705 1100 715 1140 770 1200 805 1200 808 1130 780 1055 735 1050 705 1080 705 1100"/>
<circle class="f" cx="1075" cy="1345" r="3"/><circle class="f" cx="1120" cy="1425" r="4"/><circle class="f" cx="1165" cy="1470" r="5"/><circle class="f" cx="1210" cy="1450" r="5"/><circle class="f" cx="1218" cy="1375" r="3"/><circle class="f" cx="1140" cy="1325" r="3"/>
<ellipse cx="474" cy="1022" rx="18" ry="18" class="m"/>
<use href="#b" transform="translate(72 745) rotate(-15)"/><use href="#b" transform="translate(233 875) rotate(-25)"/><use href="#b" transform="translate(402 737) rotate(-20)"/><use href="#b" transform="translate(585 517) rotate(-20)"/><use href="#b" transform="translate(632 903) rotate(-40)"/><use href="#b" transform="translate(273 1080) rotate(-15)"/><use href="#b" transform="translate(530 1190) rotate(-20)"/><use href="#b" transform="translate(818 613) rotate(-25)"/>
<use href="#q" transform="translate(1110 690)"/><use href="#q" transform="translate(150 1545)"/>
<text class="t" transform="translate(520 1000)" style="font-size:58px">E</text>
<text class="t" transform="translate(960 155)" style="font-size:58px">R</text>
<text class="t" transform="translate(15 1105)" style="font-size:58px">R</text>
<text class="t" transform="translate(500 792) rotate(120)" style="font-size:58px">4</text>
<text class="t" transform="translate(538 842) rotate(120)" style="font-size:58px">4</text>
</g></g>
</svg>
<script>
/* Smooth traced polylines into Catmull-Rom curves; the polylines remain as a fallback. */
document.querySelectorAll('svg path').forEach(function(p){
  if(p.closest('clipPath')||p.closest('pattern')||p.closest('defs'))return;
  var d=p.getAttribute('d');
  if(!d||/[^M\d\s.\-]/.test(d))return;
  var out='';
  d.split('M').forEach(function(s){
    var n=s.match(/-?[\d.]+/g);
    if(!n)return;
    var a=[];
    for(var i=0;i+1<n.length;i+=2)a.push([+n[i],+n[i+1]]);
    out+='M'+a[0][0]+' '+a[0][1];
    if(a.length<3){for(var k=1;k<a.length;k++)out+='L'+a[k][0]+' '+a[k][1];return;}
    for(var j=0;j<a.length-1;j++){
      var p0=a[j-1]||a[j],p1=a[j],p2=a[j+1],p3=a[j+2]||p2;
      out+='C'+(p1[0]+(p2[0]-p0[0])/6).toFixed(1)+' '+(p1[1]+(p2[1]-p0[1])/6).toFixed(1)+' '+(p2[0]-(p3[0]-p1[0])/6).toFixed(1)+' '+(p2[1]-(p3[1]-p1[1])/6).toFixed(1)+' '+p2[0]+' '+p2[1];
    }
  });
  p.setAttribute('d',out);
});
</script>
</body></html>
